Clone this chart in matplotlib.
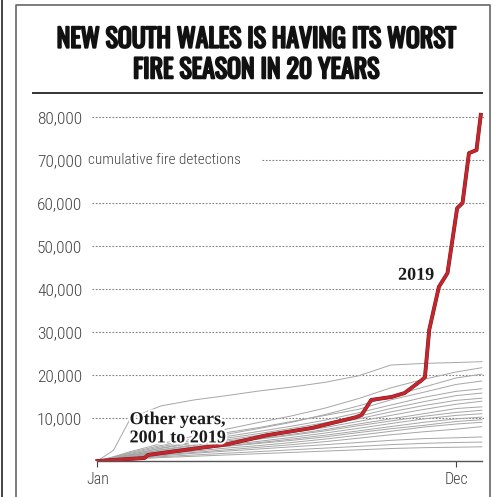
import numpy as np
import matplotlib
matplotlib.use("Agg")
import matplotlib.pyplot as plt
import matplotlib.patheffects as pe
from matplotlib.lines import Line2D

# Day-of-year grid used for the other years (cumulative detections, thousands)
grid_days = [0, 15, 31, 59, 90, 120, 151, 181, 212, 243, 273, 304, 334, 358]

other_years = {
    2001: [0, 2.5, 10.0, 12.8, 14.2, 15.2, 16.3, 17.2, 18.3, 19.8, 22.3, 22.7, 22.9, 23.1],
    2002: [0, 1.0, 2.2, 4.0, 5.8, 7.4, 9.0, 10.5, 12.3, 14.5, 17.0, 19.0, 20.7, 21.7],
    2003: [0, 0.8, 1.8, 3.3, 4.8, 6.2, 7.6, 9.0, 10.8, 12.8, 15.0, 17.2, 19.3, 20.2],
    2004: [0, 0.9, 2.0, 3.6, 5.2, 6.6, 7.8, 9.2, 10.6, 12.0, 14.2, 16.0, 17.8, 18.6],
    2005: [0, 0.6, 1.5, 3.0, 4.4, 5.7, 6.9, 8.1, 9.5, 11.2, 13.0, 14.8, 16.2, 16.8],
    2006: [0, 0.7, 1.6, 2.9, 4.2, 5.3, 6.4, 7.6, 8.9, 10.4, 12.2, 13.8, 15.2, 15.8],
    2007: [0, 0.5, 1.3, 2.6, 3.8, 4.9, 6.0, 7.1, 8.4, 9.8, 11.4, 12.9, 14.1, 14.6],
    2008: [0, 0.6, 1.4, 2.5, 3.6, 4.6, 5.6, 6.6, 7.8, 9.2, 10.6, 12.0, 13.2, 13.9],
    2009: [0, 0.4, 1.1, 2.2, 3.2, 4.2, 5.2, 6.2, 7.3, 8.6, 9.8, 11.0, 12.2, 12.6],
    2010: [0, 0.5, 1.2, 2.3, 3.3, 4.3, 5.1, 6.0, 7.0, 8.2, 9.3, 10.4, 11.3, 11.8],
    2011: [0, 0.4, 1.0, 2.0, 2.9, 3.8, 4.6, 5.5, 6.5, 7.6, 8.7, 9.8, 10.6, 11.0],
    2012: [0, 0.3, 0.9, 1.8, 2.7, 3.5, 4.3, 5.1, 6.0, 7.0, 8.0, 9.0, 9.8, 10.2],
    2013: [0, 0.4, 1.0, 1.9, 2.7, 3.4, 4.1, 4.8, 5.6, 6.6, 7.5, 8.3, 9.2, 9.6],
    2014: [0, 0.3, 0.8, 1.6, 2.3, 3.0, 3.6, 4.3, 5.1, 6.0, 6.9, 7.9, 8.6, 9.0],
    2015: [0, 0.3, 0.7, 1.4, 2.0, 2.6, 3.2, 3.8, 4.5, 5.3, 6.1, 6.8, 7.4, 8.0],
    2016: [0, 0.2, 0.6, 1.2, 1.8, 2.3, 2.8, 3.3, 3.8, 4.3, 4.8, 5.2, 5.4, 5.6],
    2017: [0, 0.2, 0.5, 1.0, 1.4, 1.8, 2.2, 2.6, 3.0, 3.4, 3.8, 4.1, 4.3, 4.4],
    2018: [0, 0.2, 0.4, 0.8, 1.1, 1.4, 1.7, 2.0, 2.3, 2.6, 2.9, 3.1, 3.2, 3.3],
}

# 2019 (red line), day of year and cumulative detections (thousands)
days_2019 = [0, 44, 47, 121, 158, 200, 241, 246, 255, 274, 286, 302, 305, 309,
             318, 326, 335, 340, 346, 353, 357]
vals_2019 = [0, 0.7, 1.4, 3.9, 6.0, 7.7, 10.2, 10.7, 14.2, 14.9, 15.8, 18.8, 19.5,
             30.5, 40.5, 43.7, 58.8, 60.0, 71.6, 72.3, 80.5]

yticks = [10000, 20000, 30000, 40000, 50000, 60000, 70000, 80000]
xtick_days = [0, 334]
xtick_labels = ["Jan", "Dec"]

title = "NEW SOUTH WALES IS HAVING ITS WORST\nFIRE SEASON IN 20 YEARS"

cond = ["Roboto Condensed", "DejaVu Sans"]
head = ["Oswald", "Roboto Condensed", "DejaVu Sans"]
serif = ["Liberation Serif", "DejaVu Serif"]

W, H = 501, 497
fig = plt.figure(figsize=(W / 100, H / 100), dpi=100)

def fx(px):
    return px / W

def fy(py):
    return 1 - py / H

# frame lines
fig.add_artist(Line2D([fx(1.5), fx(1.5)], [0, 1], color="#444444", lw=1.4))
fig.add_artist(Line2D([fx(16), fx(16), fx(490), fx(490)], [0, fy(5), fy(5), 0],
                      color="#666666", lw=1.2))
fig.add_artist(Line2D([fx(33), fx(482)], [fy(93), fy(93)], color="#333333", lw=1.4))

# Oswald only has a regular weight here, so thicken the strokes a little
fig.text(fx(256), fy(55), title, ha="center", va="center", fontsize=18.6,
         fontweight="bold", family=head, linespacing=1.22, color="#111111",
         path_effects=[pe.withStroke(linewidth=1.4, foreground="#111111")])

ax = fig.add_axes([fx(92), fy(461), fx(484) - fx(92), fy(108.4) - fy(461)])
ax.set_xlim(-5, 360)
ax.set_ylim(0, 82000)

for year, vals in other_years.items():
    ax.plot(grid_days, np.array(vals) * 1000, color="#a6a6a6", lw=0.7, zorder=2)

ax.plot(days_2019, np.array(vals_2019) * 1000, color="#c4262e", lw=2.2,
        solid_joinstyle="round", zorder=4,
        path_effects=[pe.Stroke(linewidth=2.8, foreground="#7a1a1e"), pe.Normal()])

# gridlines
for v in yticks:
    xmin = 0.0
    if v == 70000:
        xmin = (262 - 92) / 392
    ax.axhline(v, xmin=xmin, xmax=1, color="#808080", lw=0.8, ls=(0, (1.5, 1.5)), zorder=1)

ax.set_yticks(yticks)
ax.set_yticklabels([f"{v:,}" for v in yticks])
ax.set_xticks(xtick_days)
ax.set_xticklabels(xtick_labels)
ax.tick_params(axis="y", length=0, pad=7, labelsize=12.5, labelcolor="#444444")
ax.tick_params(axis="x", length=4, width=0.8, color="#444444", pad=4,
               labelsize=11.5, labelcolor="#444444")
for lab in ax.get_yticklabels() + ax.get_xticklabels():
    lab.set_family(cond)
    lab.set_fontweight("light")

for s in ["top", "right", "left"]:
    ax.spines[s].set_visible(False)
ax.spines["bottom"].set_color("#555555")
ax.spines["bottom"].set_linewidth(1.0)
ax.spines["bottom"].set_bounds(0, 358)

ax.text(-0.01, 70000, "cumulative fire detections", transform=ax.get_yaxis_transform(),
        ha="left", va="center", fontsize=11, color="#444444", family=cond,
        fontweight="light")

halo = [pe.withStroke(linewidth=3, foreground="white")]
ax.text(280, 43200, "2019", ha="left", va="center", fontsize=13, fontweight="bold",
        family=serif, color="#1a1a1a", zorder=5, path_effects=halo)
ax.text(30, 7500, "Other years,\n2001 to 2019", ha="left", va="center", fontsize=13,
        fontweight="bold", family=serif, color="#1a1a1a",
        linespacing=1.1, zorder=5, path_effects=halo)

fig.savefig("out.png", dpi=100)
